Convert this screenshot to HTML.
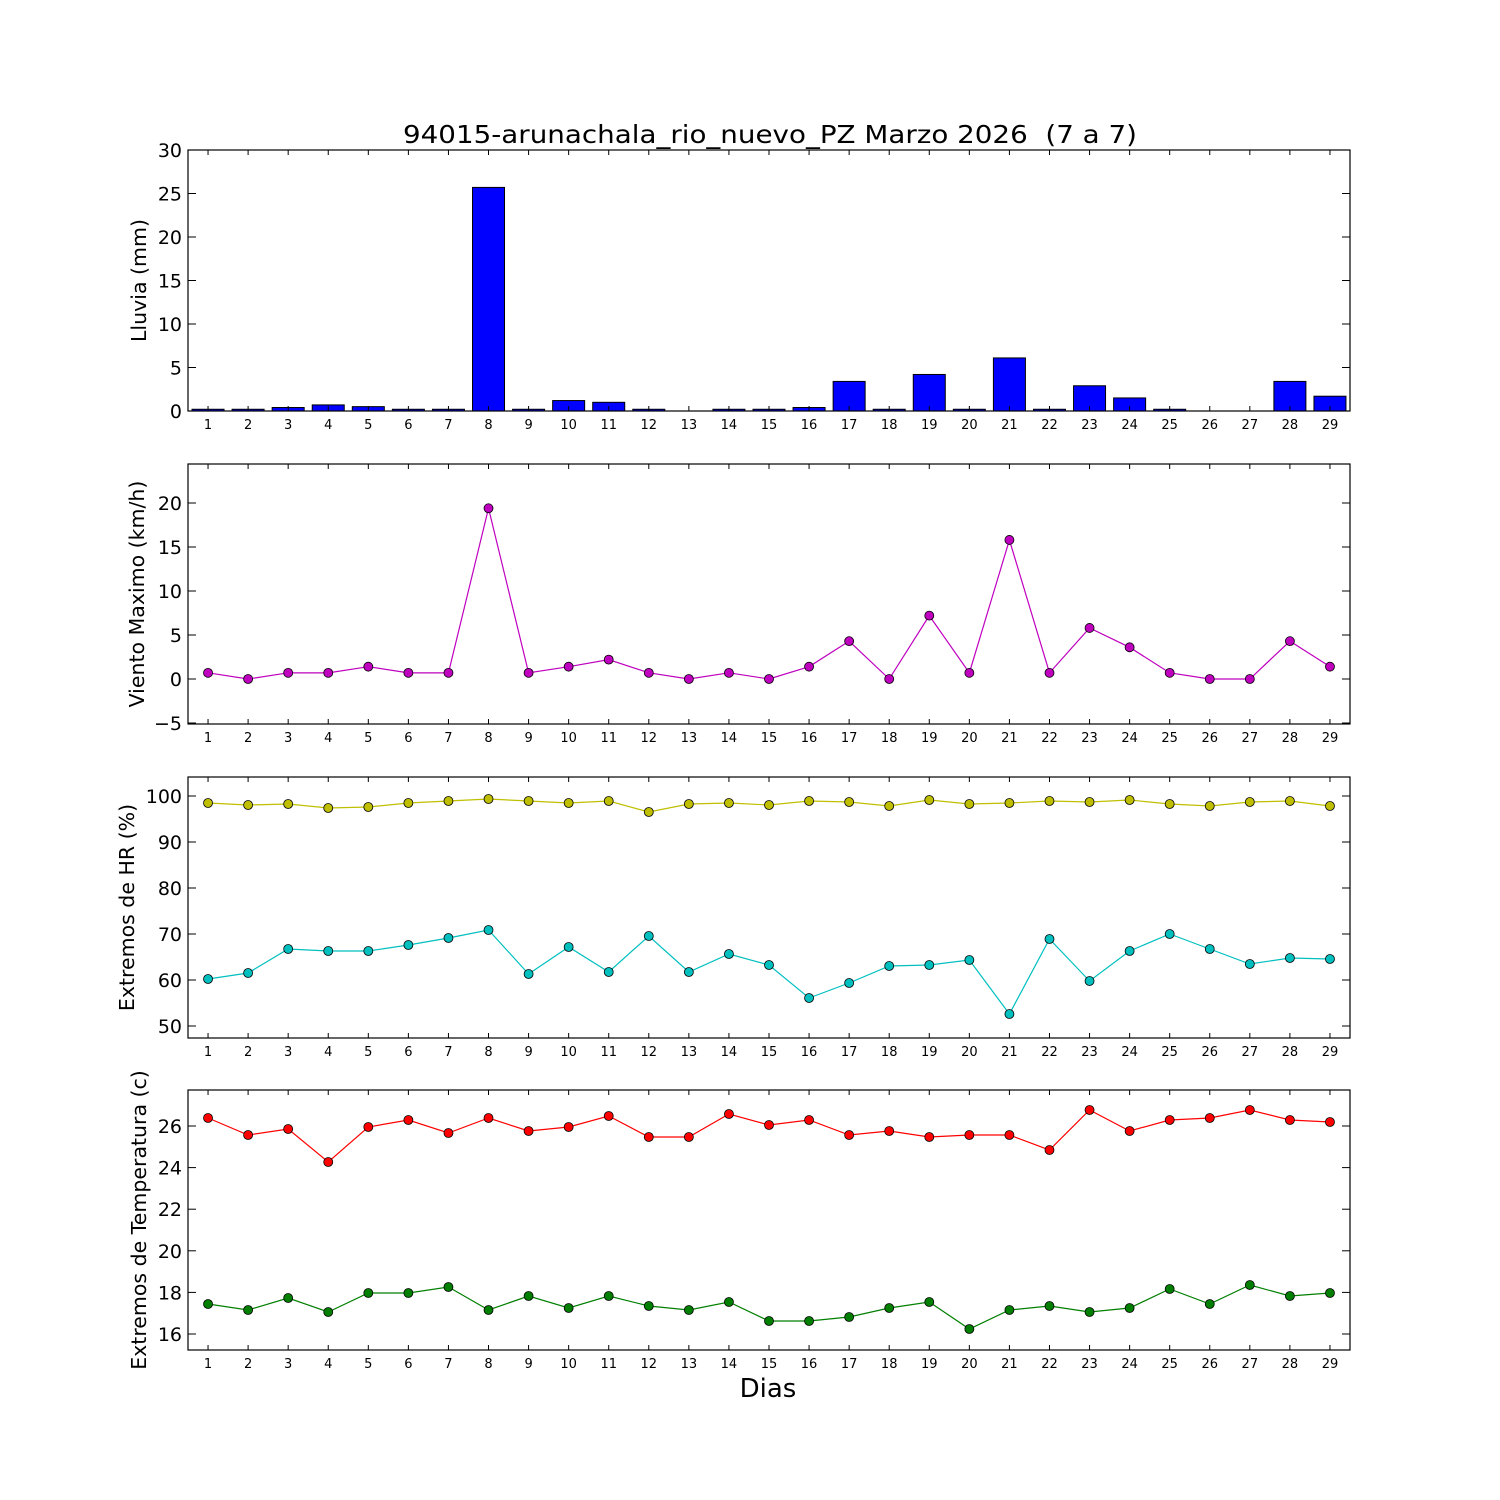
<!DOCTYPE html>
<html><head><meta charset="utf-8"><style>body{margin:0;background:#fff}svg{display:block}text{font-family:"DejaVu Sans","Liberation Sans",sans-serif}</style></head>
<body><svg id="s" width="1500" height="1500" xmlns="http://www.w3.org/2000/svg"></svg>
<script>
const s=document.getElementById('s');let h='';
const X=d=>188+(d-0.5)*1162/29;
const L=188,R=1350;
h+='<text x="770" y="143" font-size="25" text-anchor="middle" textLength="734" lengthAdjust="spacingAndGlyphs">94015-arunachala_rio_nuevo_PZ Marzo 2026&#160;&#160;(7 a 7)</text>';
function panel(top,bot,yt,label,lx){
 h+=`<rect x="${L}" y="${top}" width="${R-L}" height="${bot-top}" fill="none" stroke="#000" stroke-width="1.2"/>`;
 for(let d=1;d<=29;d++){const x=X(d);h+=`<line x1="${x}" y1="${bot}" x2="${x}" y2="${bot-5}" stroke="#000"/><line x1="${x}" y1="${top}" x2="${x}" y2="${top+5}" stroke="#000"/><text x="${x}" y="${bot+18}" font-size="13" text-anchor="middle">${d}</text>`;}
 yt.forEach(([y,t])=>{h+=`<line x1="${L}" y1="${y}" x2="${L+8}" y2="${y}" stroke="#000"/><line x1="${R}" y1="${y}" x2="${R-8}" y2="${y}" stroke="#000"/><text x="${L-6}" y="${y+7}" font-size="19" text-anchor="end">${t}</text>`;});
 const cy=(top+bot)/2;h+=`<text x="${lx}" y="${cy}" font-size="20.5" text-anchor="middle" transform="rotate(-90 ${lx} ${cy})">${label}</text>`;
}
function line(ys,col){let p=ys.map((y,i)=>X(i+1)+','+y).join(' ');h+=`<polyline points="${p}" fill="none" stroke="${col}" stroke-width="1.2"/>`;ys.forEach((y,i)=>{h+=`<circle cx="${X(i+1)}" cy="${y}" r="4.5" fill="${col}" stroke="#000" stroke-width="0.8"/>`;});}
const rain=[0.2,0.2,0.4,0.7,0.5,0.2,0.2,25.7,0.2,1.2,1.0,0.2,0,0.2,0.2,0.4,3.4,0.2,4.2,0.2,6.1,0.2,2.9,1.5,0.2,0,0,3.4,1.7];
rain.forEach((v,i)=>{if(v>0){const hh=v*261/30;h+=`<rect x="${X(i+1)-16}" y="${411-hh}" width="32" height="${hh}" fill="#0000ff" stroke="#000" stroke-width="1"/>`;}});
panel(150,411,[0,5,10,15,20,25,30].map(v=>[411-v*8.7,v]),'Lluvia (mm)',146);
const w=[0.7,0,0.7,0.7,1.4,0.7,0.7,19.4,0.7,1.4,2.2,0.7,0,0.7,0,1.4,4.3,0,7.2,0.7,15.8,0.7,5.8,3.6,0.7,0,0,4.3,1.4];
line(w.map(v=>679-v*8.8),'#bf00bf');
panel(464,724,[-5,0,5,10,15,20].map(v=>[679-v*8.8,v<0?'\u22125':v]),'Viento Maximo (km/h)',144);
line([803,805,804,808,807,803,801,799,801,803,801,812,804,803,805,801,802,806,800,804,803,801,802,800,804,806,802,801,806],'#bfbf00');
line([979,973,949,951,951,945,938,930,974,947,972,936,972,954,965,998,983,966,965,960,1014,939,981,951,934,949,964,958,959],'#00bfbf');
panel(777,1038,[50,60,70,80,90,100].map(v=>[796-(v-100)*4.6,v]),'Extremos de HR (%)',134);
line([1118,1135,1129,1162,1127,1120,1133,1118,1131,1127,1116,1137,1137,1114,1125,1120,1135,1131,1137,1135,1135,1150,1110,1131,1120,1118,1110,1120,1122],'#ff0000');
line([1304,1310,1298,1312,1293,1293,1287,1310,1296,1308,1296,1306,1310,1302,1321,1321,1317,1308,1302,1329,1310,1306,1312,1308,1289,1304,1285,1296,1293],'#007f00');
panel(1090,1350,[16,18,20,22,24,26].map(v=>[1334-(v-16)*20.8,v]),'Extremos de Temperatura (c)',146);
h+='<text x="768" y="1397" font-size="26" text-anchor="middle">Dias</text>';
s.innerHTML=h;
</script></body></html>
